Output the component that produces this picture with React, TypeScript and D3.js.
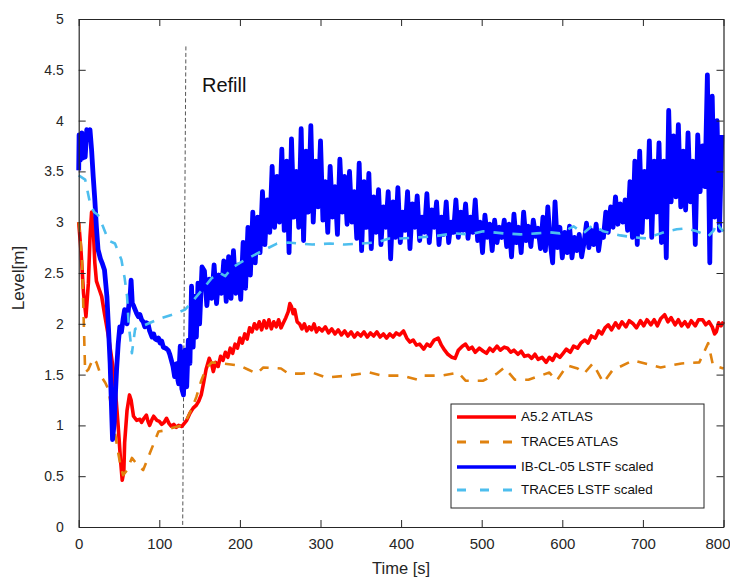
import React, { useEffect, useRef } from 'react'
import * as d3 from 'd3'

const W = 730
const H = 584

// tick values
const xTicks = [0, 100, 200, 300, 400, 500, 600, 700, 800]
const yTicks = [0, 0.5, 1, 1.5, 2, 2.5, 3, 3.5, 4, 4.5, 5]

const seriesNames = ['A5.2 ATLAS', 'TRACE5 ATLAS', 'IB-CL-05 LSTF scaled', 'TRACE5 LSTF scaled']

// A5.2 ATLAS  [time s, level m]
const a52Atlas: [number, number][] = [
  [0, 3.0], [3, 2.7], [6, 2.3], [9, 2.07], [12, 2.4], [14, 2.85], [16, 3.1], [18, 2.95], [20, 2.6], [22, 2.42],
  [25, 2.35], [28.5, 2.27], [32, 2.1], [37, 1.87], [43, 1.55], [46, 1.3], [49, 0.99], [52, 0.65], [54, 0.46], [56, 0.55],
  [57, 0.83], [60, 1.15], [63, 1.3], [65, 1.25], [68, 1.09], [72, 1.05], [76, 1.06], [78, 1.03], [81, 1.07], [84, 1.1],
  [86, 1.04], [88, 1.0], [91, 1.06], [93, 1.09], [97, 1.05], [100, 1.04], [103, 1.01], [106, 1.03], [109, 1.07], [112, 1.02],
  [115, 0.99], [118, 1.01], [121, 0.98], [124, 1.0], [128, 0.99], [131, 1.02], [134, 1.05], [138, 1.12], [142, 1.17], [146, 1.2],
  [149, 1.24], [152, 1.3], [155, 1.42], [158, 1.55], [162, 1.66], [165, 1.6], [167, 1.53], [170, 1.62], [173, 1.58], [176, 1.68],
  [179, 1.64], [182, 1.72], [185, 1.67], [188, 1.76], [191, 1.71], [194, 1.8], [197, 1.76], [200, 1.86], [203, 1.81], [206, 1.9],
  [209, 1.85], [212, 1.96], [215, 1.92], [218, 2.0], [221, 1.95], [224, 2.02], [227, 1.94], [230, 2.03], [233, 1.96], [236, 2.04],
  [239, 1.95], [242, 2.02], [245, 1.97], [248, 2.04], [251, 1.96], [254, 2.01], [257, 2.06], [260, 2.12], [262, 2.2], [264, 2.17],
  [266, 2.1], [268, 2.14], [271, 2.02], [274, 2.0], [277, 1.95], [280, 2.0], [283, 1.93], [286, 1.97], [289, 1.94], [292, 2.0],
  [295, 1.92], [298, 1.96], [302, 1.93], [306, 1.97], [310, 1.91], [314, 1.95], [318, 1.9], [322, 1.94], [326, 1.89], [330, 1.93],
  [334, 1.88], [338, 1.92], [342, 1.87], [346, 1.91], [350, 1.88], [354, 1.92], [358, 1.87], [362, 1.91], [366, 1.88], [370, 1.92],
  [374, 1.87], [378, 1.9], [382, 1.86], [386, 1.9], [390, 1.87], [394, 1.91], [398, 1.89], [403, 1.93], [407, 1.86], [411, 1.82],
  [415, 1.84], [419, 1.79], [423, 1.8], [428, 1.75], [432, 1.8], [436, 1.78], [441, 1.84], [446, 1.86], [450, 1.79], [454, 1.74],
  [458, 1.7], [463, 1.67], [467, 1.66], [471, 1.74], [476, 1.78], [480, 1.8], [484, 1.75], [488, 1.77], [492, 1.72], [497, 1.76],
  [502, 1.73], [506, 1.71], [510, 1.76], [514, 1.73], [519, 1.78], [523, 1.74], [528, 1.77], [532, 1.76], [536, 1.72], [540, 1.74],
  [545, 1.7], [549, 1.73], [553, 1.68], [558, 1.69], [562, 1.66], [566, 1.7], [570, 1.65], [575, 1.67], [580, 1.62], [584, 1.67],
  [588, 1.64], [592, 1.7], [597, 1.67], [601, 1.71], [605, 1.75], [610, 1.72], [614, 1.78], [619, 1.76], [623, 1.81], [628, 1.84],
  [632, 1.81], [636, 1.88], [641, 1.86], [645, 1.93], [649, 1.9], [653, 1.96], [657, 1.99], [661, 1.94], [666, 2.01], [670, 1.96],
  [674, 2.02], [679, 1.97], [683, 2.03], [688, 2.0], [692, 1.96], [697, 2.03], [701, 1.98], [705, 2.04], [710, 1.99], [714, 2.04],
  [718, 1.98], [722, 2.05], [727, 2.09], [731, 2.02], [735, 2.06], [740, 1.99], [744, 2.04], [748, 1.98], [752, 2.02], [756, 1.97],
  [760, 2.03], [765, 1.98], [769, 2.04], [774, 2.04], [778, 1.99], [782, 2.02], [786, 1.97], [789, 1.9], [791, 1.92], [794, 2.01],
  [797, 1.98], [800, 2.02],
]

// TRACE5 ATLAS
const trace5Atlas: [number, number][] = [
  [0, 3.0], [2, 2.85], [4, 2.63], [6, 2.1], [8, 1.52], [12, 1.55], [18, 1.66], [22, 1.62], [28, 1.48], [33, 1.42],
  [37, 1.35], [40, 1.2], [43, 1.02], [46, 0.88], [49, 0.73], [52, 0.6], [55, 0.51], [60, 0.56], [66, 0.68], [72, 0.62],
  [80, 0.56], [88, 0.72], [99, 0.94], [107, 0.95], [118, 0.98], [128, 1.0], [134, 1.06], [140, 1.16], [146, 1.28], [152, 1.44],
  [158, 1.56], [165, 1.62], [178, 1.61], [199, 1.59], [210, 1.55], [221, 1.51], [229, 1.57], [251, 1.56], [260, 1.51], [277, 1.51],
  [290, 1.52], [307, 1.47], [333, 1.49], [361, 1.52], [376, 1.49], [402, 1.49], [420, 1.45], [428, 1.49], [450, 1.49], [471, 1.52],
  [480, 1.44], [502, 1.44], [519, 1.51], [528, 1.57], [541, 1.45], [558, 1.45], [584, 1.52], [593, 1.44], [606, 1.59], [619, 1.56],
  [627, 1.51], [638, 1.61], [651, 1.42], [662, 1.54], [688, 1.64], [722, 1.57], [748, 1.61], [770, 1.62], [781, 1.81], [787, 1.59],
  [800, 1.56],
]

// IB-CL-05 LSTF scaled, first part read point by point
const ibEarly: [number, number][] = [
  [0, 3.51], [0.5, 3.86], [2, 3.61], [4, 3.88], [5, 3.63], [7, 3.74], [8, 3.64], [10, 3.91], [12, 3.87], [14, 3.91],
  [16, 3.71], [18, 3.45], [20, 3.22], [22, 2.95], [24, 2.73], [27, 2.64], [29, 2.6], [32, 2.53], [35, 2.27], [37, 1.95],
  [39, 1.61], [41, 1.1], [42, 0.86], [44, 1.02], [45.5, 1.3], [47, 1.55], [49, 1.8], [51, 1.97], [53, 1.92], [55, 2.04],
  [57, 2.14], [59, 2.02], [60, 2.0], [62, 2.17], [64, 2.3], [65, 2.43], [66.5, 2.2], [68, 2.18], [70, 2.14], [72, 2.1],
  [74, 2.07], [76, 2.09], [78, 2.04], [80, 2.02], [82, 1.97], [84, 2.01], [86, 2.0], [88, 1.93], [91, 1.87], [93, 1.9],
  [95, 1.85], [97, 1.84], [99, 1.86], [101, 1.81], [103, 1.83], [105, 1.77], [108, 1.76], [111, 1.74], [113, 1.7], [115, 1.64],
  [117, 1.58], [119, 1.48], [120, 1.6], [122, 1.61], [123, 1.45], [124, 1.41], [125, 1.62], [126, 1.78], [127, 1.5], [128, 1.36],
  [130, 1.3], [132, 1.74], [134, 1.38], [136, 1.84], [138, 1.61], [140, 2.37], [142, 1.77], [144, 2.27], [146, 1.87], [148, 2.4],
  [150, 2.0], [153, 2.56],
]

// IB-CL-05 LSTF scaled, noisy part sampled every 3 s from 156 s
const ibStart = 156
const ibStep = 3
const ibLevels = [
  2.52, 2.18, 2.44, 2.25, 2.58, 2.2, 2.48, 2.3, 2.62, 2.22,
  2.66, 2.25, 2.72, 2.3, 2.58, 2.24, 2.8, 2.35, 2.95, 2.48,
  3.1, 2.6, 3.05, 2.7, 3.3, 2.78, 3.22, 2.9, 3.55, 2.95,
  3.45, 3.0, 3.72, 2.92, 3.6, 2.7, 3.82, 3.05, 3.5, 2.95,
  3.92, 2.82, 3.7, 3.1, 3.95, 3.0, 3.6, 3.15, 3.8, 3.02,
  3.4, 2.9, 3.55, 3.05, 3.35, 2.88, 3.62, 3.1, 3.45, 2.98,
  3.5, 3.0, 3.3, 2.84, 3.58, 2.72, 3.4, 2.95, 3.48, 2.74,
  3.25, 2.9, 3.32, 2.78, 3.15, 2.95, 3.3, 2.64, 3.2, 2.85,
  3.34, 2.8, 3.1, 2.92, 3.3, 2.74, 3.18, 2.95, 3.26, 2.82,
  3.05, 2.9, 3.28, 2.8, 3.12, 2.95, 3.2, 2.78, 3.05, 2.88,
  3.2, 2.8, 3.0, 2.9, 3.22, 2.85, 3.1, 2.92, 3.18, 2.84,
  3.05, 2.9, 3.22, 2.82, 3.0, 2.7, 3.07, 2.85, 2.98, 2.72,
  3.02, 2.8, 2.95, 2.85, 3.02, 2.76, 2.98, 2.66, 3.08, 2.8,
  2.95, 2.7, 3.1, 2.82, 2.96, 2.76, 3.02, 2.86, 2.94, 2.74,
  3.05, 2.72, 3.15, 2.8, 2.6, 3.2, 2.75, 2.95, 2.65, 2.9,
  2.7, 2.96, 2.65, 2.85, 2.72, 2.88, 2.66, 2.8, 2.99, 2.75,
  2.92, 2.78, 2.98, 2.72, 2.9, 2.85, 3.1, 2.9, 3.15, 2.95,
  3.25, 2.98, 3.18, 3.0, 3.22, 2.92, 3.4, 2.85, 3.6, 2.78,
  3.7, 2.9, 3.5, 3.05, 3.8, 2.85, 3.6, 3.1, 3.78, 2.8,
  3.6, 2.65, 4.1, 3.2, 3.85, 3.25, 3.96, 3.15, 3.7, 3.12,
  3.88, 3.2, 3.6, 2.78, 3.86, 3.3, 3.75, 3.35, 4.45, 2.6,
  4.24, 3.05, 4.0, 2.92, 3.86,
]

// TRACE5 LSTF scaled
const trace5Lstf: [number, number][] = [
  [0, 3.46], [8, 3.42], [14, 3.19], [19, 3.1], [24, 3.07], [30, 2.96], [37, 2.82], [45, 2.79], [53, 2.63], [57, 2.45],
  [60, 2.27], [62, 2.0], [66, 1.71], [70, 1.95], [80, 1.98], [100, 2.05], [120, 2.1], [132, 2.14], [142, 2.23], [155, 2.35],
  [165, 2.45], [175, 2.5], [182, 2.47], [190, 2.55], [200, 2.6], [221, 2.69], [246, 2.79], [260, 2.8], [275, 2.79], [290, 2.78],
  [312, 2.79], [330, 2.78], [349, 2.79], [370, 2.8], [385, 2.84], [399, 2.84], [420, 2.85], [440, 2.86], [465, 2.89], [485, 2.88],
  [502, 2.91], [527, 2.89], [548, 2.88], [568, 2.89], [585, 2.9], [597, 2.89], [605, 2.92], [614, 2.96], [626, 2.89], [638, 2.97],
  [651, 2.91], [672, 2.87], [690, 2.85], [705, 2.84], [718, 2.88], [730, 2.91], [742, 2.93], [754, 2.94], [767, 2.91], [781, 2.86],
  [788, 2.92], [792, 3.0], [796, 2.94], [800, 2.91],
]

// refill marker line (slightly slanted in the original)
const refillLine: [number, number][] = [[133, 4.73], [129, 0]]

const FONT = '"Liberation Sans", Arial, Helvetica, sans-serif'
const INK = '#262626'

export default function App() {
  const ref = useRef<SVGSVGElement>(null)

  useEffect(() => {
    const svg = d3.select(ref.current)
    svg.selectAll('*').remove()

    const left = 78.7
    const right = 723.5
    const top = 19
    const bottom = 527

    const x = d3.scaleLinear().domain([0, 800]).range([left, right])
    const y = d3.scaleLinear().domain([0, 5]).range([bottom, top])

    const ibSeries: [number, number][] = ibEarly.concat(
      ibLevels.map((v, i) => [ibStart + i * ibStep, v] as [number, number])
    )

    const line = d3.line<[number, number]>()
      .x(d => x(d[0]))
      .y(d => y(d[1]))

    const series = [
      { data: a52Atlas, color: '#ff0000', width: 3.6, dash: null },
      { data: trace5Atlas, color: '#e0820f', width: 2.6, dash: '10,9' },
      { data: ibSeries, color: '#0000ff', width: 4.8, dash: null },
      { data: trace5Lstf, color: '#4dbeee', width: 2.6, dash: '10,9' },
    ]

    // refill
    svg.append('path')
      .attr('d', line(refillLine))
      .attr('fill', 'none')
      .attr('stroke', '#555')
      .attr('stroke-width', 1)
      .attr('stroke-dasharray', '4,2.5')

    svg.append('text')
      .attr('x', 202)
      .attr('y', 92)
      .attr('font-family', FONT)
      .attr('font-size', 20)
      .attr('fill', '#111')
      .text('Refill')

    series.forEach(s => {
      svg.append('path')
        .attr('d', line(s.data))
        .attr('fill', 'none')
        .attr('stroke', s.color)
        .attr('stroke-width', s.width)
        .attr('stroke-linejoin', 'round')
        .attr('stroke-dasharray', s.dash)
    })

    // axes, ticks pointing inward like matlab
    const styleAxis = (g: any, size: number) => {
      g.selectAll('path').attr('stroke', INK)
      g.selectAll('line').attr('stroke', INK)
      g.selectAll('text').attr('fill', INK).attr('font-family', FONT).attr('font-size', size)
    }

    const xAxis = svg.append('g')
      .attr('transform', `translate(0,${bottom})`)
      .call(d3.axisBottom(x).tickValues(xTicks).tickSize(-7).tickSizeOuter(0).tickPadding(11).tickFormat(d => String(d)))
      .call(styleAxis, 15)
    // last label sits against the page edge
    xAxis.selectAll('.tick text').filter((d: any) => d === 800).attr('text-anchor', 'end').attr('x', 730 - right)

    svg.append('g')
      .attr('transform', `translate(${left},0)`)
      .call(d3.axisLeft(y).tickValues(yTicks).tickSize(-7).tickSizeOuter(0).tickPadding(15).tickFormat(d => String(d)))
      .call(styleAxis, 14)

    svg.append('g')
      .attr('transform', `translate(0,${top})`)
      .call(d3.axisTop(x).tickValues(xTicks).tickSize(-7).tickSizeOuter(0).tickFormat(() => ''))
      .call(styleAxis, 14)

    svg.append('g')
      .attr('transform', `translate(${right},0)`)
      .call(d3.axisRight(y).tickValues(yTicks).tickSize(-7).tickSizeOuter(0).tickFormat(() => ''))
      .call(styleAxis, 14)

    svg.selectAll('.domain').attr('stroke-width', 1.2)

    // axis titles
    svg.append('text')
      .attr('x', (left + right) / 2)
      .attr('y', 574)
      .attr('text-anchor', 'middle')
      .attr('font-family', FONT)
      .attr('font-size', 16.5)
      .attr('fill', INK)
      .text('Time [s]')

    svg.append('text')
      .attr('transform', `translate(24,278) rotate(-90)`)
      .attr('text-anchor', 'middle')
      .attr('font-family', FONT)
      .attr('font-size', 17)
      .attr('fill', INK)
      .text('Level[m]')

    // legend
    const lg = svg.append('g').attr('transform', 'translate(451,404)')
    lg.append('rect')
      .attr('width', 253)
      .attr('height', 104)
      .attr('fill', '#fff')
      .attr('stroke', INK)
      .attr('stroke-width', 1)

    const rowY = [12, 37, 62, 85]
    series.forEach((s, i) => {
      lg.append('line')
        .attr('x1', 6)
        .attr('x2', 65)
        .attr('y1', rowY[i] + 1)
        .attr('y2', rowY[i] + 1)
        .attr('stroke', s.color)
        .attr('stroke-width', s.dash ? 3 : 3.6)
        .attr('stroke-dasharray', s.dash ? '9,14' : null)
      lg.append('text')
        .attr('x', 70)
        .attr('y', rowY[i] + 5)
        .attr('font-family', FONT)
        .attr('font-size', 13.4)
        .attr('fill', '#111')
        .text(seriesNames[i])
    })
  }, [])

  return (
    <svg
      ref={ref}
      width={W}
      height={H}
      style={{ position: 'absolute', left: 0, top: 0, background: '#fff' }}
    />
  )
}
